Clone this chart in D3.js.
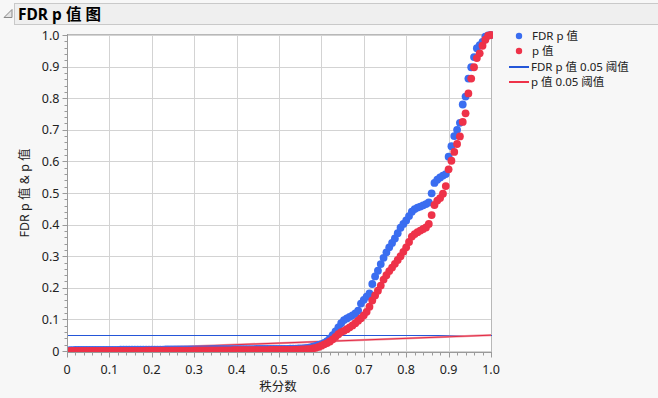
<!DOCTYPE html>
<html><head><meta charset="utf-8">
<script src="https://cdn.jsdelivr.net/npm/d3@7"></script>
<style>
html,body{margin:0;padding:0;background:#f7f7f7;}
svg{display:block;font-family:"Noto Sans","Noto Sans CJK SC",sans-serif;}
</style></head>
<body>
<svg id="c" width="658" height="398"></svg>
<script>
// ---- data ----
const title = "FDR p 值 图";
const xLabel = "秩分数";
const yLabel = "FDR p 值 & p 值";
const legendLabels = ["FDR p 值", "p 值", "FDR p 值 0.05 阈值", "p 值 0.05 阈值"];
const xTicks = [0,0.1,0.2,0.3,0.4,0.5,0.6,0.7,0.8,0.9,1.0];
const yTicks = [0,0.1,0.2,0.3,0.4,0.5,0.6,0.7,0.8,0.9,1.0];
const alpha = 0.05;
// sorted raw p values (rank fraction = k / n)
const pValues = [
0.0000,0.0000,0.0000,0.0001,0.0001,0.0001,0.0001,0.0002,0.0002,0.0002,
0.0002,0.0003,0.0003,0.0003,0.0003,0.0004,0.0004,0.0004,0.0005,0.0005,
0.0005,0.0006,0.0006,0.0006,0.0007,0.0007,0.0007,0.0008,0.0008,0.0009,
0.0009,0.0009,0.0010,0.0010,0.0011,0.0011,0.0012,0.0012,0.0013,0.0013,
0.0014,0.0014,0.0015,0.0015,0.0016,0.0016,0.0017,0.0017,0.0018,0.0018,
0.0019,0.0019,0.0020,0.0020,0.0021,0.0021,0.0022,0.0022,0.0023,0.0023,
0.0024,0.0025,0.0025,0.0026,0.0026,0.0027,0.0028,0.0028,0.0029,0.0030,
0.0030,0.0031,0.0032,0.0032,0.0033,0.0034,0.0035,0.0036,0.0037,0.0038,
0.0040,0.0043,0.0047,0.0052,0.0058,0.0060,0.0080,0.0100,0.0130,0.0170,
0.021,0.025,0.030,0.037,0.045,0.053,0.060,0.064,0.069,0.075,
0.081,0.088,0.096,0.104,0.113,0.124,0.140,0.160,0.176,0.191,
0.207,0.226,0.240,0.253,0.264,0.276,0.288,0.300,0.314,0.328,
0.345,0.362,0.370,0.376,0.381,0.386,0.391,0.402,0.430,0.462,
0.476,0.484,0.498,0.522,0.575,0.602,0.630,0.655,0.679,0.725,
0.752,0.815,0.862,0.898,0.927,0.942,0.966,0.985,0.998,1.000];
// FDR adjusted p values, same ranks
const fdrValues = [
0.0030,0.0030,0.0031,0.0031,0.0032,0.0032,0.0033,0.0033,0.0034,0.0034,
0.0035,0.0035,0.0036,0.0036,0.0037,0.0037,0.0038,0.0038,0.0039,0.0039,
0.0040,0.0040,0.0041,0.0041,0.0042,0.0042,0.0043,0.0043,0.0044,0.0044,
0.0045,0.0045,0.0046,0.0046,0.0047,0.0047,0.0048,0.0048,0.0049,0.0049,
0.0050,0.0050,0.0051,0.0051,0.0052,0.0052,0.0053,0.0053,0.0054,0.0054,
0.0055,0.0055,0.0056,0.0056,0.0057,0.0057,0.0058,0.0058,0.0059,0.0059,
0.0060,0.0060,0.0061,0.0061,0.0062,0.0062,0.0063,0.0063,0.0064,0.0064,
0.0065,0.0065,0.0066,0.0066,0.0066,0.0066,0.0068,0.0070,0.0072,0.0074,
0.0076,0.0079,0.0085,0.0093,0.0102,0.0112,0.0135,0.0160,0.0190,0.0220,
0.026,0.031,0.040,0.050,0.062,0.075,0.088,0.098,0.103,0.108,
0.113,0.119,0.128,0.150,0.162,0.172,0.182,0.212,0.236,0.254,
0.275,0.295,0.312,0.328,0.342,0.356,0.373,0.390,0.402,0.413,
0.427,0.441,0.449,0.454,0.457,0.461,0.465,0.470,0.499,0.532,
0.542,0.549,0.555,0.560,0.615,0.648,0.680,0.700,0.722,0.780,
0.805,0.862,0.898,0.930,0.958,0.968,0.978,0.995,0.999,1.000];

// ---- layout ----
const BLUE = "#3a6df0", RED = "#ee3249";
const svg = d3.select("#c");
const L = 67, R = 491, T = 35, B = 351;   // data 0..1 mapping
const frame = {x0: 67, x1: 492, y0: 34, y1: 353};
const x = d3.scaleLinear().domain([0,1]).range([L,R]);
const y = d3.scaleLinear().domain([0,1]).range([B,T]);
const n = pValues.length;
const rank = i => (i + 1) / n;
const R_DOT = 3.9;

// header
svg.append("rect").attr("x",0).attr("y",0).attr("width",658).attr("height",398).attr("fill","#f7f7f7");
svg.append("rect").attr("x",14.5).attr("y",3.5).attr("width",650).attr("height",21)
  .attr("fill","#efefef").attr("stroke","#c9c9c9");
svg.append("path").attr("d","M4,17.5 L12,9.5 L12,17.5 Z").attr("fill","#e4e4e4").attr("stroke","#8a8a8a");
svg.append("text").attr("x",18).attr("y",20).attr("font-size",15.5).attr("font-weight","bold")
  .attr("fill","#000").text(title);

// plot background
svg.append("rect").attr("x",frame.x0).attr("y",frame.y0).attr("width",frame.x1-frame.x0)
  .attr("height",frame.y1-frame.y0).attr("fill","#fff");

// grid
const g = svg.append("g");
g.selectAll(".vg").data(xTicks.slice(1,-1)).enter().append("line")
  .attr("x1",d=>Math.round(x(d))+0.5).attr("x2",d=>Math.round(x(d))+0.5)
  .attr("y1",frame.y0).attr("y2",frame.y1).attr("stroke","#d3d3d3");
g.selectAll(".hg").data(yTicks.slice(1)).enter().append("line")
  .attr("y1",d=>Math.round(y(d))+0.5).attr("y2",d=>Math.round(y(d))+0.5)
  .attr("x1",frame.x0).attr("x2",frame.x1).attr("stroke","#d3d3d3");
g.append("line").attr("y1",y(0)+0.5).attr("y2",y(0)+0.5).attr("x1",frame.x0).attr("x2",frame.x1).attr("stroke","#d3d3d3");
// frame top/right
svg.append("rect").attr("x",frame.x0+0.5).attr("y",frame.y0+0.5).attr("width",frame.x1-frame.x0-1)
  .attr("height",frame.y1-frame.y0-1).attr("fill","none").attr("stroke","#b8b8b8");

// threshold lines
svg.append("line").attr("x1",frame.x0).attr("x2",frame.x1)
  .attr("y1",Math.round(y(alpha))+0.5).attr("y2",Math.round(y(alpha))+0.5)
  .attr("stroke","#2456d8").attr("stroke-width",1.2);
svg.append("line").attr("x1",x(0)).attr("x2",x(1)).attr("y1",y(0)).attr("y2",y(alpha))
  .attr("stroke","#f29aa5").attr("stroke-width",2.2);
svg.append("line").attr("x1",x(0)).attr("x2",x(1)).attr("y1",y(0)).attr("y2",y(alpha))
  .attr("stroke","#e0203c").attr("stroke-width",0.9);

// points
svg.append("clipPath").attr("id","pc").append("rect")
  .attr("x",frame.x0).attr("y",frame.y0-4).attr("width",frame.x1-frame.x0+1).attr("height",frame.y1-frame.y0+4);
const pts = svg.append("g").attr("clip-path","url(#pc)");
pts.selectAll(".fdr").data(fdrValues).enter().append("circle")
  .attr("cx",(d,i)=>x(rank(i))).attr("cy",d=>y(d)).attr("r",R_DOT).attr("fill",BLUE);
pts.selectAll(".p").data(pValues).enter().append("circle")
  .attr("cx",(d,i)=>x(rank(i))).attr("cy",d=>y(d)).attr("r",R_DOT).attr("fill",RED);

// axes
const fmt = d => d===0 ? "0" : d3.format(".1f")(d);
const yAxis = svg.append("g").attr("transform",`translate(${frame.x0+0.5},0)`);
yAxis.append("line").attr("y1",frame.y0).attr("y2",frame.y1).attr("stroke","#9a9a9a");
const yMinor = d3.range(0,51).map(i=>i/50);
yAxis.selectAll(".ym").data(yMinor).enter().append("line")
  .attr("x1",0).attr("x2",d=>(Math.round(d*50)%5===0)?-5:-3)
  .attr("y1",d=>Math.round(y(d))+0.5).attr("y2",d=>Math.round(y(d))+0.5).attr("stroke","#9a9a9a");
yAxis.selectAll(".yl").data(yTicks).enter().append("text")
  .attr("x",-8).attr("y",d=>y(d)+4.5).attr("text-anchor","end").attr("font-size",12.5)
  .attr("fill","#222").text(fmt);

const xAxis = svg.append("g").attr("transform",`translate(0,${frame.y1-0.5})`);
xAxis.append("line").attr("x1",frame.x0).attr("x2",frame.x1).attr("stroke","#9a9a9a");
const xMinor = d3.range(0,51).map(i=>i/50);
xAxis.selectAll(".xm").data(xMinor).enter().append("line")
  .attr("y1",0).attr("y2",d=>(Math.round(d*50)%5===0)?5:3)
  .attr("x1",d=>Math.round(x(d))+0.5).attr("x2",d=>Math.round(x(d))+0.5).attr("stroke","#9a9a9a");
xAxis.selectAll(".xl").data(xTicks).enter().append("text")
  .attr("x",d=>x(d)).attr("y",21.5).attr("text-anchor","middle").attr("font-size",12.5)
  .attr("fill","#222").text(fmt);

// axis titles
svg.append("text").attr("x",278).attr("y",391).attr("text-anchor","middle")
  .attr("font-size",12.5).attr("fill","#222").text(xLabel);
svg.append("text").attr("transform","translate(29,193) rotate(-90)").attr("text-anchor","middle")
  .attr("font-size",12.5).attr("fill","#222").text(yLabel);

// legend
const lg = svg.append("g");
const items = [
  {t:"dot", c:BLUE, y:36}, {t:"dot", c:RED, y:51},
  {t:"line", c:"#2456d8", y:67}, {t:"line", c:RED, y:82}];
items.forEach((it,i)=>{
  if (it.t==="dot") lg.append("circle").attr("cx",519).attr("cy",it.y).attr("r",3.2).attr("fill",it.c);
  else lg.append("line").attr("x1",509).attr("x2",529).attr("y1",it.y).attr("y2",it.y)
        .attr("stroke",it.c).attr("stroke-width",2);
  lg.append("text").attr("x",it.t==="dot"?532:531).attr("y",it.y+4.2).attr("font-size",11.5)
    .attr("fill","#222").text(legendLabels[i]);
});
</script>
</body></html>
